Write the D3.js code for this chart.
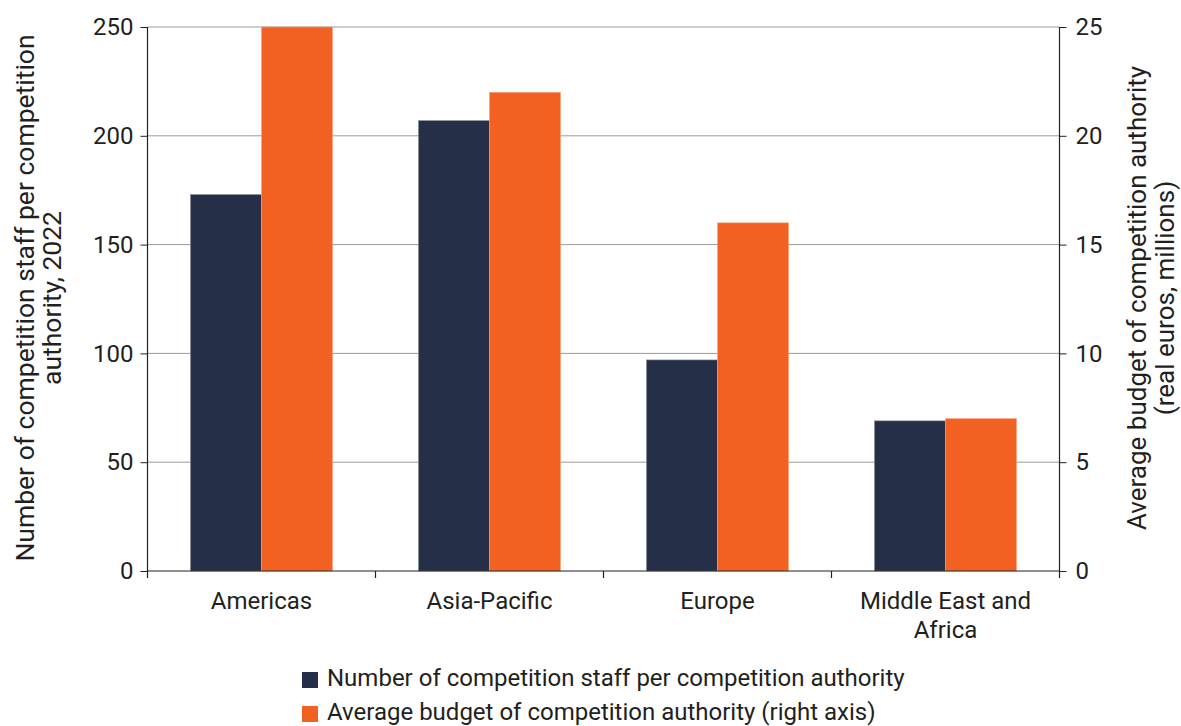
<!DOCTYPE html>
<html><head><meta charset="utf-8">
<script src="https://cdn.jsdelivr.net/npm/d3@7"></script>
<style>body{margin:0;background:#fff;} text{font-family:Roboto,"Noto Sans",sans-serif;fill:#231f20;}</style>
</head><body><svg id="c" width="1181" height="726"></svg>
<script>
const categories = [["Americas"], ["Asia-Pacific"], ["Europe"], ["Middle East and", "Africa"]];
const staff = [173, 207, 97, 69];
const budget = [25, 22, 16, 7];
const leftTicks = [0, 50, 100, 150, 200, 250];
const rightTicks = [0, 5, 10, 15, 20, 25];
const seriesNames = ["Number of competition staff per competition authority", "Average budget of competition authority (right axis)"];
const colors = ["#253048", "#f26122"];

const svg = d3.select("#c");
const L = 147.5, R = 1059.5, T = 27, B = 571;
const x = d3.scaleBand().domain(d3.range(categories.length)).range([L, R]).paddingInner(0.377).paddingOuter(0.1885);
const yL = d3.scaleLinear().domain([0, 250]).range([B, T]);
const yR = d3.scaleLinear().domain([0, 25]).range([B, T]);
const bw = x.bandwidth() / 2;

// gridlines
svg.append("g").selectAll("line").data(leftTicks.slice(1)).join("line")
  .attr("x1", L).attr("x2", R).attr("y1", d => yL(d)).attr("y2", d => yL(d))
  .attr("stroke", "#9a9a9a").attr("stroke-width", 1);

// bars
svg.append("g").selectAll("rect").data(staff).join("rect")
  .attr("x", (d, i) => x(i)).attr("width", bw)
  .attr("y", d => yL(d)).attr("height", d => B - yL(d))
  .attr("fill", colors[0]).attr("stroke", "#8a8f9a").attr("stroke-width", 0.6);
svg.append("g").selectAll("rect").data(budget).join("rect")
  .attr("x", (d, i) => x(i) + bw).attr("width", bw)
  .attr("y", d => yR(d)).attr("height", d => B - yR(d))
  .attr("fill", colors[1]).attr("stroke", "#f7a27c").attr("stroke-width", 0.6);

// axes
const gl = svg.append("g").attr("transform", `translate(${L},0)`)
  .call(d3.axisLeft(yL).tickValues(leftTicks).tickSize(7).tickPadding(7));
const gr = svg.append("g").attr("transform", `translate(${R},0)`)
  .call(d3.axisRight(yR).tickValues(rightTicks).tickSize(7).tickPadding(9));
[gl, gr].forEach(g => {
  g.select(".domain").attr("stroke", "#231f20").attr("stroke-width", 1.2);
  g.selectAll(".tick line").attr("stroke", "#231f20");
  g.selectAll(".tick text").attr("font-size", 24).attr("font-family", "Roboto").attr("fill", "#231f20");
});
gl.select(".domain").attr("d", `M0,${T}V${B}`);
gr.select(".domain").attr("d", `M0,${T}V${B}`);

// x axis
svg.append("line").attr("x1", L).attr("x2", R).attr("y1", B).attr("y2", B).attr("stroke", "#231f20").attr("stroke-width", 1.2);
const bounds = d3.range(categories.length + 1).map(i => L + i * (R - L) / categories.length);
svg.append("g").selectAll("line").data(bounds).join("line")
  .attr("x1", d => d).attr("x2", d => d).attr("y1", B).attr("y2", B + 7)
  .attr("stroke", "#231f20").attr("stroke-width", 1.2);
const xl = svg.append("g").selectAll("text").data(categories).join("text")
  .attr("x", (d, i) => x(i) + x.bandwidth() / 2).attr("y", 609)
  .attr("text-anchor", "middle").attr("font-size", 24);
xl.selectAll("tspan").data(d => d).join("tspan")
  .attr("x", function () { return d3.select(this.parentNode).attr("x"); })
  .attr("dy", (d, i) => i === 0 ? 0 : 29).text(d => d);

// axis titles
const lt = svg.append("text").attr("transform", `translate(34,298) rotate(-90)`).attr("text-anchor", "middle").attr("font-size", 26.5);
lt.append("tspan").attr("x", 0).attr("dy", 0).text("Number of competition staff per competition");
lt.append("tspan").attr("x", 0).attr("dy", 27).text("authority, 2022");
const rt = svg.append("text").attr("transform", `translate(1146,298) rotate(-90)`).attr("text-anchor", "middle").attr("font-size", 26);
rt.append("tspan").attr("x", 0).attr("dy", 0).text("Average budget of competition authority");
rt.append("tspan").attr("x", 0).attr("dy", 28).text("(real euros, millions)");

// legend
const lg = svg.append("g").selectAll("g").data(seriesNames).join("g")
  .attr("transform", (d, i) => `translate(302,${671 + i * 34})`);
lg.append("rect").attr("y", 1).attr("width", 16).attr("height", 16).attr("fill", (d, i) => colors[i]);
lg.append("text").attr("x", 25).attr("y", 15).attr("font-size", 24).text(d => d);
</script></body></html>
